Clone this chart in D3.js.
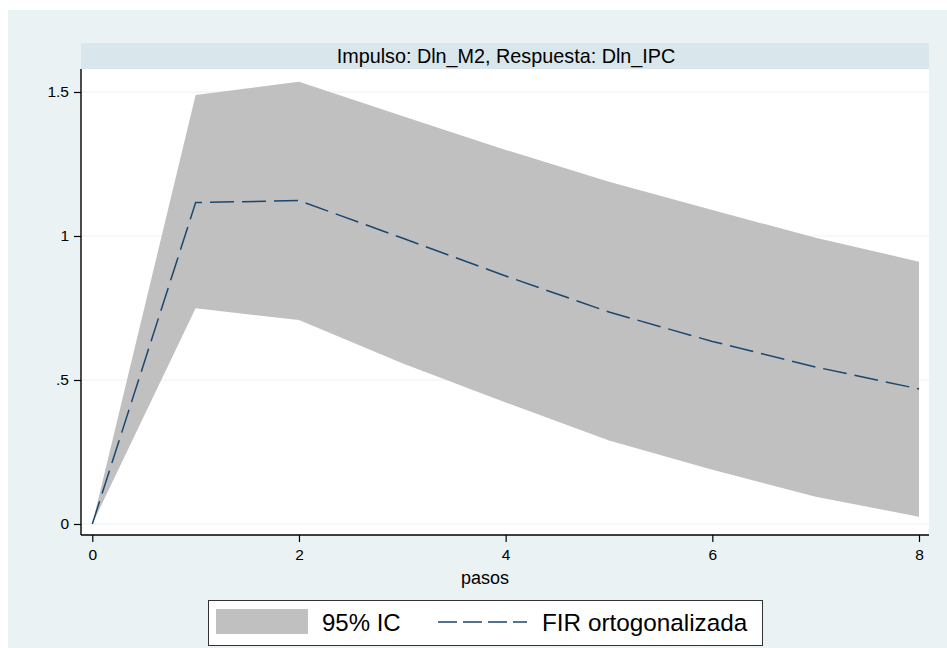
<!DOCTYPE html>
<html>
<head>
<meta charset="utf-8">
<script src="https://cdn.jsdelivr.net/npm/d3@7"></script>
<style>
  html, body { margin: 0; padding: 0; background: #ffffff; }
  svg { display: block; font-family: "Liberation Sans", Arial, sans-serif; }
</style>
</head>
<body>
<svg id="chart" width="947" height="648"></svg>
<script>
// Impulse-response: step, orthogonalised IRF and its 95% band
const steps = [0, 1, 2, 3, 4, 5, 6, 7, 8];
const firValues = [0, 1.116, 1.123, 0.993, 0.861, 0.736, 0.634, 0.545, 0.469];
const upperValues = [0, 1.490, 1.536, 1.417, 1.299, 1.188, 1.090, 0.994, 0.911];
const lowerValues = [0, 0.749, 0.708, 0.558, 0.422, 0.290, 0.188, 0.095, 0.025];

const yTickValues = [0, 0.5, 1, 1.5];
const yTickLabels = ["0", ".5", "1", "1.5"];
const xTickValues = [0, 2, 4, 6, 8];

const titleText = "Impulso: Dln_M2, Respuesta: Dln_IPC";
const xTitle = "pasos";
const legendLabels = ["95% IC", "FIR ortogonalizada"];

const rows = steps.map((s, i) => ({ step: s, fir: firValues[i], lo: lowerValues[i], hi: upperValues[i] }));

const svg = d3.select("#chart");

// graph region background
svg.append("rect")
  .attr("x", 8).attr("y", 10).attr("width", 939).attr("height", 638)
  .attr("fill", "#eaf2f3");

// plot region
const plot = { left: 81, right: 929, top: 69, bottom: 535 };

// strip holding the panel title
svg.append("rect")
  .attr("x", plot.left).attr("y", 43)
  .attr("width", plot.right - plot.left).attr("height", 26)
  .attr("fill", "#d9e6eb");
svg.append("text")
  .attr("x", (plot.left + plot.right) / 2 + 1).attr("y", 62.5)
  .attr("text-anchor", "middle")
  .attr("font-size", 19.8).attr("fill", "#000")
  .text(titleText);

svg.append("rect")
  .attr("x", plot.left).attr("y", plot.top)
  .attr("width", plot.right - plot.left).attr("height", plot.bottom - plot.top)
  .attr("fill", "#ffffff");

const x = d3.scaleLinear().domain([0, 8]).range([92.3, 919]);
const y = d3.scaleLinear().domain([0, 1.5]).range([524, 92]);

// horizontal grid lines
svg.append("g").selectAll("line")
  .data(yTickValues)
  .join("line")
  .attr("x1", plot.left).attr("x2", plot.right)
  .attr("y1", d => y(d)).attr("y2", d => y(d))
  .attr("stroke", "#eaf2f3").attr("stroke-width", 1.2);

// confidence band
const band = d3.area()
  .x(d => x(d.step))
  .y0(d => y(d.lo))
  .y1(d => y(d.hi));
svg.append("path")
  .datum(rows)
  .attr("d", band)
  .attr("fill", "#c0c0c0");

// impulse-response line
const line = d3.line()
  .x(d => x(d.step))
  .y(d => y(d.fir));
svg.append("path")
  .datum(rows)
  .attr("d", line)
  .attr("fill", "none")
  .attr("stroke", "#1a476f")
  .attr("stroke-width", 1.5)
  .attr("stroke-dasharray", "24 8");

// axes
const yAxis = d3.axisLeft(y)
  .tickValues(yTickValues)
  .tickFormat((d, i) => yTickLabels[i])
  .tickSize(7).tickPadding(5);
const gy = svg.append("g")
  .attr("transform", `translate(${plot.left},0)`)
  .call(yAxis);
gy.select(".domain").remove();
gy.selectAll(".tick line").attr("stroke", "#000").attr("stroke-width", 1.2);
gy.selectAll(".tick text")
  .attr("font-size", 15.5).attr("fill", "#000")
  .attr("font-family", "Liberation Sans, Arial, sans-serif");

const xAxis = d3.axisBottom(x)
  .tickValues(xTickValues)
  .tickFormat(d3.format("d"))
  .tickSize(7).tickPadding(7);
const gx = svg.append("g")
  .attr("transform", `translate(0,${plot.bottom})`)
  .call(xAxis);
gx.select(".domain").remove();
gx.selectAll(".tick line").attr("stroke", "#000").attr("stroke-width", 1.2);
gx.selectAll(".tick text")
  .attr("font-size", 15.5).attr("fill", "#000")
  .attr("font-family", "Liberation Sans, Arial, sans-serif");

// axis lines spanning the plot region
svg.append("line")
  .attr("x1", plot.left).attr("x2", plot.left)
  .attr("y1", plot.top).attr("y2", plot.bottom)
  .attr("stroke", "#000").attr("stroke-width", 1.4);
svg.append("line")
  .attr("x1", plot.left).attr("x2", plot.right)
  .attr("y1", plot.bottom).attr("y2", plot.bottom)
  .attr("stroke", "#000").attr("stroke-width", 1.4);

// x axis title
svg.append("text")
  .attr("x", 485).attr("y", 584)
  .attr("text-anchor", "middle")
  .attr("font-size", 18).attr("fill", "#000")
  .text(xTitle);

// legend
const lg = svg.append("g");
lg.append("rect")
  .attr("x", 208.5).attr("y", 600.5).attr("width", 554).attr("height", 45)
  .attr("fill", "#ffffff").attr("stroke", "#333").attr("stroke-width", 1);
lg.append("rect")
  .attr("x", 216).attr("y", 609).attr("width", 92).attr("height", 25)
  .attr("fill", "#c0c0c0");
lg.append("text")
  .attr("x", 322).attr("y", 631)
  .attr("font-size", 24).attr("fill", "#000")
  .text(legendLabels[0]);
lg.append("line")
  .attr("x1", 438).attr("x2", 527).attr("y1", 622).attr("y2", 622)
  .attr("stroke", "#1a476f").attr("stroke-width", 1.5)
  .attr("stroke-dasharray", "19 6");
lg.append("text")
  .attr("x", 542).attr("y", 631)
  .attr("font-size", 24.3).attr("fill", "#000")
  .text(legendLabels[1]);
</script>
</body>
</html>
